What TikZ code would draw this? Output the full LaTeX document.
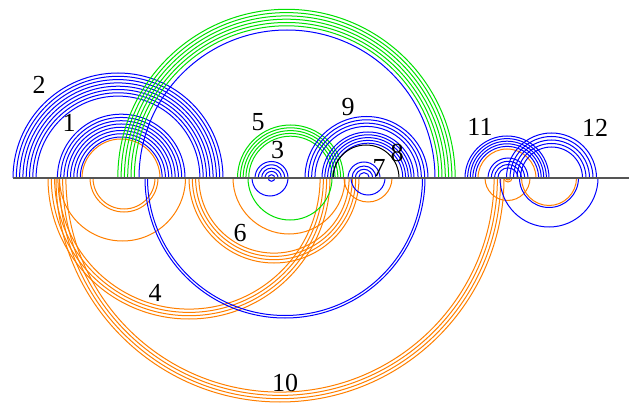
\documentclass[tikz,border=0pt]{standalone}
\usepackage{fontspec}
\setmainfont{Liberation Serif}
\definecolor{pairblue}{HTML}{0000FF}
\definecolor{pairgreen}{HTML}{00E000}
\definecolor{pairorange}{HTML}{FF7F00}
\definecolor{axisgray}{HTML}{555555}

% concentric pairs above / below the sequence axis: colour, centre, outer radius, count, step
\newcommand{\upperhelix}[5]{%
  \foreach \k in {1,...,#4}
    \draw[pair,#1] ({#2+#3-(\k-1)*#5},0) arc[start angle=0,end angle=180,radius={#3-(\k-1)*#5}];}
\newcommand{\lowerhelix}[5]{%
  \foreach \k in {1,...,#4}
    \draw[pair,#1] ({#2+#3-(\k-1)*#5},0) arc[start angle=0,end angle=-180,radius={#3-(\k-1)*#5}];}

\begin{document}
\begin{tikzpicture}[x=1pt,y=1pt,
  pair/.style={line width=1pt},
  axis/.style={draw=axisgray,line width=1.1pt},
  num/.style={font=\fontsize{26}{28}\selectfont,inner sep=0pt}]
\useasboundingbox (0,-226) rectangle (629,178);

% lower structure (below the axis)
\lowerhelix{pairorange}{280}{224}{4}{3.3}
\lowerhelix{pairorange}{189}{141}{4}{3.3}
\lowerhelix{pairorange}{274}{85}{4}{3.3}
\lowerhelix{pairorange}{124}{34}{2}{3}
\lowerhelix{pairorange}{122.5}{63}{1}{0}
\lowerhelix{pairorange}{289}{56}{1}{0}
\lowerhelix{pairorange}{368}{24}{1}{0}
\lowerhelix{pairorange}{507.5}{22.5}{1}{0}
\lowerhelix{pairorange}{549}{27.5}{1}{0}
\lowerhelix{pairorange}{508}{4}{2}{2}
\lowerhelix{pairblue}{285}{140}{2}{2.5}
\lowerhelix{pairblue}{270}{18}{1}{0}
\lowerhelix{pairblue}{271.5}{3.3}{1}{0}
\lowerhelix{pairblue}{368}{17}{1}{0}
\lowerhelix{pairblue}{549}{29.5}{1}{0}
\lowerhelix{pairblue}{549}{49}{1}{0}
\lowerhelix{pairgreen}{290}{42}{1}{0}

% upper structure (above the axis)
\upperhelix{pairblue}{118}{105}{8}{3.3}
\upperhelix{pairblue}{121.2}{63.8}{8}{3.26}
\upperhelix{pairorange}{121}{39}{1}{0}
\upperhelix{pairblue}{287}{148}{1}{0}
\upperhelix{pairgreen}{286.5}{168.7}{6}{3.3}
\upperhelix{pairgreen}{290.5}{53}{5}{2.8}
\upperhelix{pairblue}{271.5}{16.5}{5}{3.3}
\upperhelix{pairblue}{366.5}{61.5}{4}{3.3}
\upperhelix{pairblue}{368}{46}{5}{2.8}
\upperhelix{black}{366}{33}{1}{0}
\upperhelix{pairblue}{364}{16}{1}{0}
\upperhelix{pairblue}{364}{12}{3}{3.3}
\upperhelix{pairblue}{507}{42}{5}{2.6}
\upperhelix{pairorange}{507}{29}{1}{0}
\upperhelix{pairblue}{508}{20}{4}{3.3}
\upperhelix{pairblue}{551.5}{45}{5}{3.5}

\draw[axis] (12.5,0) -- (629,0);

% helix numbers
\node[num] (n1) at (69,55) {1};
\node[num] (n2) at (39,93) {2};
\node[num] (n3) at (277.5,28) {3};
\node[num] (n4) at (155,-114.5) {4};
\node[num] (n5) at (258,56) {5};
\node[num] (n6) at (240,-55.5) {6};
\node[num] (n7) at (379,10) {7};
\node[num] (n8) at (397,25) {8};
\node[num] (n9) at (348,71) {9};
\node[num] (n10) at (285,-205) {10};
\node[num] (n11) at (480,51) {11};
\node[num] (n12) at (595,50) {12};
\end{tikzpicture}
\end{document}
